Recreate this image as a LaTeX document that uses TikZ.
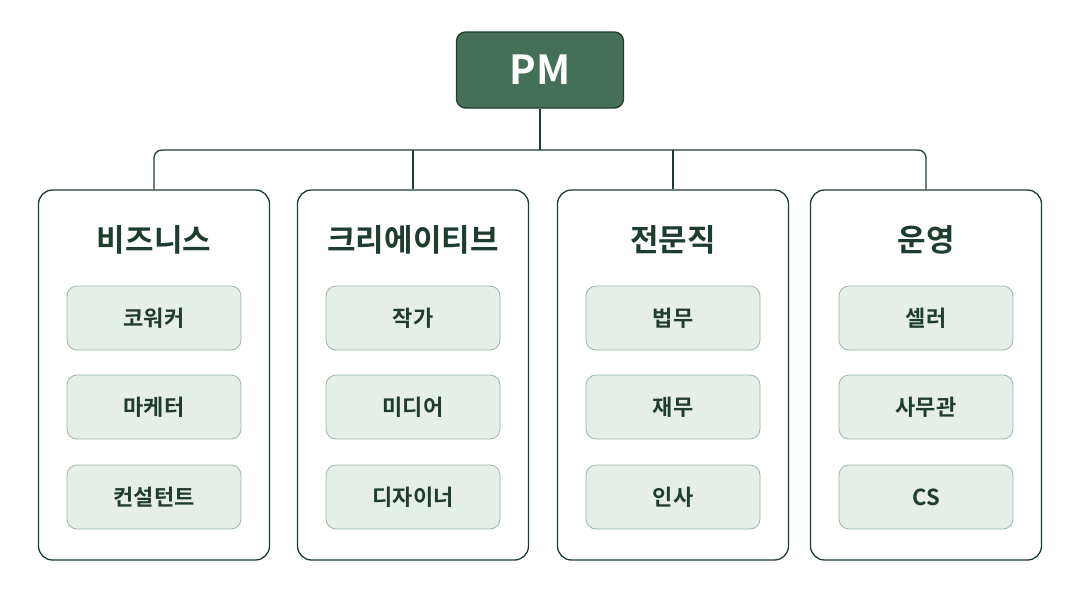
\documentclass[tikz,border=0pt]{standalone}
\usepackage{fontspec}
\setmainfont{Noto Sans CJK KR}
\newfontfamily\krbold{Noto Sans CJK KR Bold}
\usetikzlibrary{positioning}
\definecolor{pmgreen}{HTML}{44705A}
\definecolor{darkline}{HTML}{1F3D2E}
\definecolor{subfill}{HTML}{E5EFE8}
\definecolor{subline}{HTML}{9DB5A6}
\begin{document}
\begin{tikzpicture}[x=1pt, y=-1pt, thick,
  pm node/.style={draw=darkline, fill=pmgreen, rounded corners=9pt, line width=1.3pt, minimum width=167pt, minimum height=76pt, text=white, font=\krbold\fontsize{40}{44}\selectfont},
  group node/.style={draw=darkline, fill=white, rounded corners=14pt, line width=1.3pt, minimum width=231pt, minimum height=370pt},
  title node/.style={text=darkline, font=\krbold\fontsize{31}{34}\selectfont},
  role node/.style={draw=subline, fill=subfill, rounded corners=10pt, line width=0.8pt, minimum width=174pt, minimum height=64pt, text=darkline, font=\krbold\fontsize{22}{26}\selectfont}]
\useasboundingbox (0,0) rectangle (1080,611);
\node[pm node](pm) at (540,70){PM};
\node[group node](biz) at (154,375){};
\node[group node](cre) at (413,375){};
\node[group node](pro) at (673,375){};
\node[group node](ops) at (926,375){};
% titles
\node[title node] at (154,240){비즈니스};
\node[title node] at (413,240){크리에이티브};
\node[title node] at (673,240){전문직};
\node[title node] at (926,240){운영};
% roles
\node[role node](biz1) at (154,318){코워커};
\node[role node](biz2) at (154,407){마케터};
\node[role node](biz3) at (154,497){컨설턴트};
\node[role node](cre1) at (413,318){작가};
\node[role node](cre2) at (413,407){미디어};
\node[role node](cre3) at (413,497){디자이너};
\node[role node](pro1) at (673,318){법무};
\node[role node](pro2) at (673,407){재무};
\node[role node](pro3) at (673,497){인사};
\node[role node](ops1) at (926,318){셀러};
\node[role node](ops2) at (926,407){사무관};
\node[role node](ops3) at (926,497){CS};
% tree lines
\coordinate (hub) at (540,150);
\draw[darkline, line width=1.3pt] (pm.south) -- (hub);
\draw[darkline, line width=1.3pt, rounded corners=8pt] (biz.north) |- (hub) -| (ops.north);
\draw[darkline, line width=1.3pt] (cre.north) -- (cre.north |- hub);
\draw[darkline, line width=1.3pt] (pro.north) -- (pro.north |- hub);
\end{tikzpicture}
\end{document}
